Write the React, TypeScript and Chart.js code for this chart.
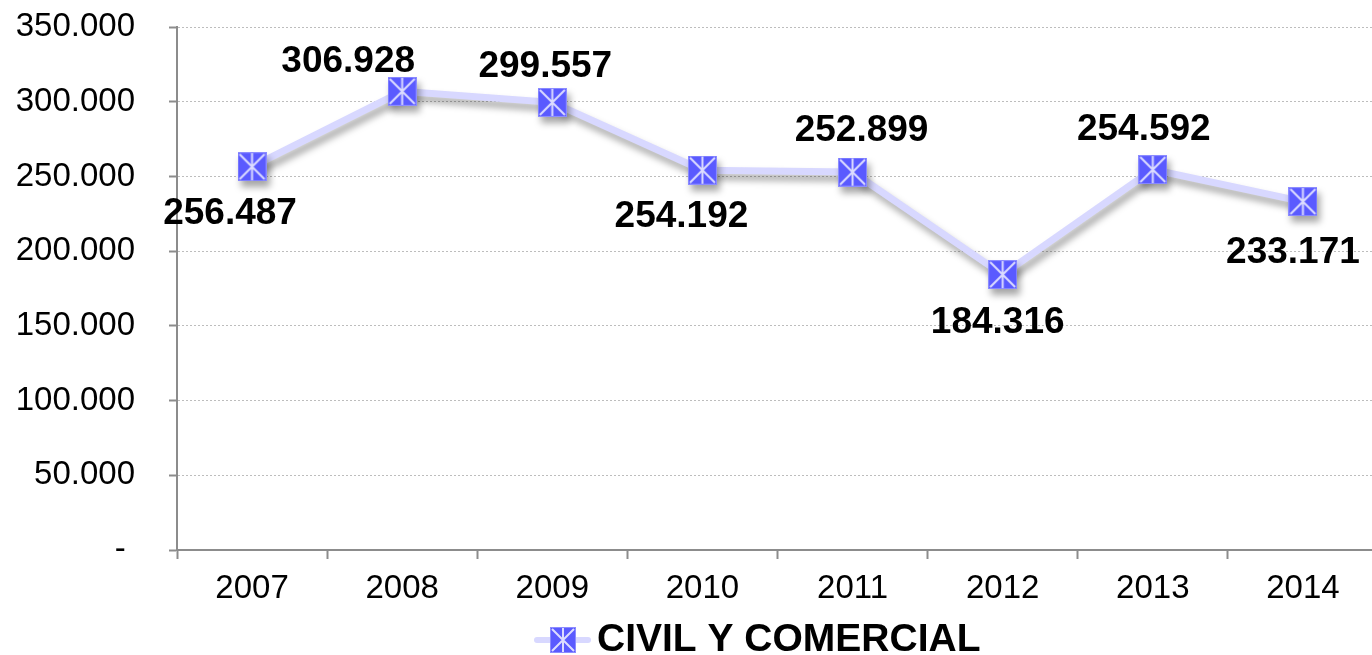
import React, { useEffect, useRef } from "react";
import { Chart, registerables } from "chart.js";

Chart.register(...registerables);

const years = ["2007", "2008", "2009", "2010", "2011", "2012", "2013", "2014"];
const civilComercial = [256487, 306928, 299557, 254192, 252899, 184316, 254592, 233171];
const seriesName = "CIVIL Y COMERCIAL";
const yMin = 0;
const yMax = 350000;
const yStep = 50000;

// label placement (pixel nudges relative to each point)
const labelDx = [-22, -54, -7, -21, 9, -5, -9, -10];
const labelDy = [44, -33, -39, 44, -44, 45, -43, 48];

const FONT = "'Liberation Sans', Arial, sans-serif";
const fmt = (v: number) =>
  v === 0 ? "- " : String(Math.round(v)).replace(/\B(?=(\d{3})+(?!\d))/g, ".");

function makeMarker(size: number): HTMLCanvasElement {
  const c = document.createElement("canvas");
  c.width = size;
  c.height = size;
  const g = c.getContext("2d")!;
  g.fillStyle = "#5a5aff";
  g.fillRect(0, 0, size, size);
  g.strokeStyle = "#8c8cff";
  g.lineWidth = 1;
  g.strokeRect(0.5, 0.5, size - 1, size - 1);
  g.strokeStyle = "#dcdcff";
  g.lineWidth = 2;
  g.beginPath();
  g.moveTo(size / 2, 1);
  g.lineTo(size / 2, size - 1);
  g.moveTo(2, 2);
  g.lineTo(size - 2, size - 2);
  g.moveTo(size - 2, 2);
  g.lineTo(2, size - 2);
  g.stroke();
  return c;
}

export default function App() {
  const ref = useRef<HTMLCanvasElement | null>(null);
  useEffect(() => {
    if (!ref.current) return;
    const marker = makeMarker(29);
    const legendMarker = makeMarker(26);

    const shadowPlugin = {
      id: "shadow",
      beforeDatasetsDraw(chart: any) {
        const ctx = chart.ctx;
        ctx.save();
        ctx.shadowColor = "rgba(0,0,0,0.35)";
        ctx.shadowBlur = 7;
        ctx.shadowOffsetX = 3;
        ctx.shadowOffsetY = 6;
      },
      afterDatasetsDraw(chart: any) {
        chart.ctx.restore();
      },
    };

    const labelPlugin = {
      id: "labels",
      afterDraw(chart: any) {
        const ctx = chart.ctx;
        const meta = chart.getDatasetMeta(0);
        const size = 37;
        ctx.save();
        ctx.font = `bold ${size}px ${FONT}`;
        ctx.fillStyle = "#000";
        ctx.textAlign = "center";
        ctx.textBaseline = "alphabetic";
        meta.data.forEach((pt: any, i: number) => {
          const cx = pt.x + labelDx[i];
          const cy = pt.y + labelDy[i];
          ctx.fillText(fmt(civilComercial[i]), cx, cy + (size * 0.716) / 2);
        });
        // legend
        const ly = 640;
        ctx.strokeStyle = "#d8d8ff";
        ctx.lineWidth = 6;
        ctx.lineCap = "round";
        ctx.beginPath();
        ctx.moveTo(537, ly);
        ctx.lineTo(588, ly);
        ctx.stroke();
        ctx.drawImage(legendMarker, 550, ly - 13);
        ctx.font = `bold 39px ${FONT}`;
        ctx.textAlign = "left";
        ctx.fillText(seriesName, 597, 651);
        ctx.restore();
      },
    };

    const chart = new Chart(ref.current, {
      type: "line",
      data: {
        labels: years,
        datasets: [
          {
            label: seriesName,
            data: civilComercial,
            borderColor: "#d8d8ff",
            borderWidth: 7,
            tension: 0,
            pointStyle: marker as any,
            pointRadius: 15,
            pointHoverRadius: 15,
            backgroundColor: "#5a5aff",
          },
        ],
      },
      options: {
        responsive: false,
        animation: false,
        devicePixelRatio: 1,
        layout: { padding: { top: 27, left: 0, right: 12, bottom: 0 } },
        plugins: {
          legend: { display: false },
          tooltip: { enabled: false },
        },
        scales: {
          x: {
            offset: true,
            grid: {
              offset: true,
              drawOnChartArea: false,
              drawTicks: true,
              tickLength: 9,
              tickColor: "#8c8c8c",
              tickWidth: 2,
            },
            border: { color: "#8c8c8c", width: 2 },
            ticks: {
              color: "#000",
              font: { family: FONT, size: 33 },
              padding: 10,
              maxRotation: 0,
            },
            afterFit(scale: any) {
              scale.height = 105;
              scale.paddingLeft = 0;
              scale.paddingRight = 0;
            },
          },
          y: {
            min: yMin,
            max: yMax,
            grid: {
              color: "#bdbdbd",
              lineWidth: 1,
              drawTicks: true,
              tickLength: 8,
              tickColor: "#8c8c8c",
              tickWidth: 2,
              tickBorderDash: [],
            },
            border: { color: "#8c8c8c", width: 2, dash: [2, 2] },
            ticks: {
              stepSize: yStep,
              color: "#000",
              font: { family: FONT, size: 33 },
              padding: 34,
              callback: (v: any) => fmt(Number(v)),
            },
            afterFit(scale: any) {
              scale.width = 177;
              scale.paddingTop = 0;
              scale.paddingBottom = 0;
            },
          },
        },
      },
      plugins: [shadowPlugin, labelPlugin],
    } as any);
    return () => chart.destroy();
  }, []);

  return (
    <div
      style={{
        position: "fixed",
        left: 0,
        top: 0,
        width: 1372,
        height: 655,
        overflow: "hidden",
        background: "#fff",
      }}
    >
      <canvas ref={ref} width={1400} height={655} />
    </div>
  );
}
